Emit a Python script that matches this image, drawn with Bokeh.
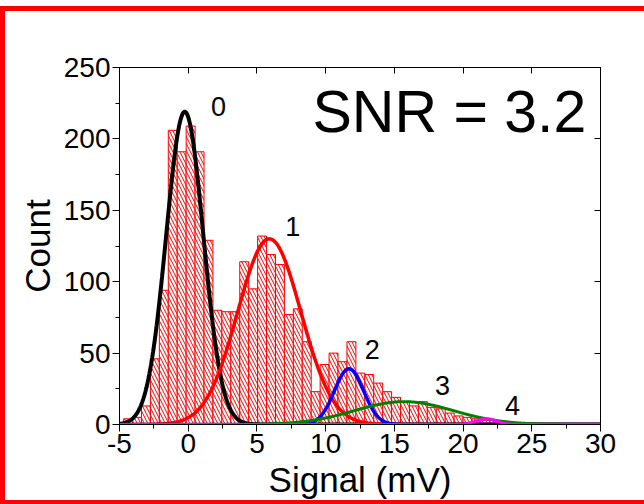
import numpy as np
from bokeh.plotting import figure
from bokeh.models import Range1d, LinearAxis, Label, ColumnDataSource, CustomJSTickFormatter
from bokeh.embed import file_html
from bokeh.resources import INLINE

# ---- data ----
bin_width = 0.65
bin_centers = [-4.375, -3.725, -3.075, -2.425, -1.775, -1.125, -0.475, 0.175, 0.825, 1.475,
               2.125, 2.775, 3.425, 4.075, 4.725, 5.375, 6.025, 6.675, 7.325, 7.975,
               8.625, 9.275, 9.925, 10.575, 11.225, 11.875, 12.525, 13.175, 13.825, 14.475,
               15.125, 15.775, 16.425, 17.075, 17.725, 18.375, 19.025, 19.675, 20.325, 20.975,
               21.625, 22.275, 22.925, 23.575]
counts = [4, 5, 13, 46, 94, 206, 191, 209, 191, 129,
          80, 79, 79, 114, 95, 132, 119, 112, 77, 81,
          58, 23, 42, 50, 44, 58, 36, 35, 29, 23,
          19, 16, 13, 16, 12, 11, 8, 6, 5, 4,
          3, 3, 2, 1]

peak_labels = ["0", "1", "2", "3", "4"]
peak_centers = [-0.25, 5.9, 11.7, 15.7, 21.7]
peak_sigmas = [1.35, 2.3, 1.06, 3.6, 0.75]
peak_heights = [219, 130, 39, 16, 4]
peak_colors = ["#000000", "#FF0000", "#0000FF", "#008000", "#FF00FF"]
peak_widths = [4, 3.5, 3.5, 3, 3]

snr_text = "SNR = 3.2"

FONT = "Liberation Sans"

p = figure(width=644, height=504, output_backend="svg", toolbar_location=None,
           x_range=Range1d(-5, 30), y_range=Range1d(0, 250),
           min_border_left=119, min_border_right=44, min_border_top=67, min_border_bottom=80)
p.background_fill_color = "white"
p.border_fill_color = None
p.outline_line_color = "black"
p.outline_line_width = 1
p.xgrid.visible = False
p.ygrid.visible = False

# red page frame (left, top, bottom) drawn by CSS behind the transparent border area
p.styles = {
    "background-color": "white",
    "box-shadow": "inset 0 6px 0 0 white, inset 5px 0 0 0 #FF0000, "
                  "inset 0 11px 0 0 #FF0000, inset 0 -4px 0 0 #FF0000",
}

# histogram
left = [c - bin_width / 2 for c in bin_centers]
right = [c + bin_width / 2 for c in bin_centers]
src = ColumnDataSource(dict(left=left, right=right, top=counts, bottom=[0] * len(counts)))
p.quad(left="left", right="right", top="top", bottom="bottom", source=src,
       fill_color="white", line_color="#FF0000", line_width=1,
       hatch_pattern="left_diagonal_line", hatch_color="#FF0000", hatch_scale=7,
       hatch_weight=1)

# fitted peaks
xs = np.linspace(-5, 30, 1401)
for mu, s, a, col, lw in zip(peak_centers, peak_sigmas, peak_heights, peak_colors, peak_widths):
    ys = a * np.exp(-((xs - mu) ** 2) / (2 * s ** 2))
    p.line(xs, ys, line_color=col, line_width=lw)

# axes styling
for ax in (p.xaxis[0], p.yaxis[0]):
    ax.axis_line_color = "black"
    ax.major_tick_line_color = "black"
    ax.minor_tick_line_color = "black"
    ax.major_tick_in = 0
    ax.major_tick_out = 7
    ax.minor_tick_in = 0
    ax.minor_tick_out = 4
    ax.major_label_text_font = FONT
    ax.major_label_text_font_size = "28px"
    ax.major_label_text_color = "black"
    ax.axis_label_text_font = FONT
    ax.axis_label_text_font_size = "35px"
    ax.axis_label_text_font_style = "normal"
    ax.axis_label_text_color = "black"
    ax.major_label_standoff = 2
    ax.axis_label_standoff = 4

p.xaxis.axis_label = "Signal (mV)"
p.yaxis.axis_label = "Count"
p.xaxis.ticker.desired_num_ticks = 8
p.xaxis.ticker.num_minor_ticks = 2
p.yaxis.ticker.desired_num_ticks = 6
p.yaxis.ticker.num_minor_ticks = 2
p.xaxis.formatter = CustomJSTickFormatter(code="return String(tick).replace('\u2212', '-');")

# mirrored axes (ticks only, no labels)
for loc in ("right", "above"):
    ax = LinearAxis(major_tick_in=6, major_tick_out=0, minor_tick_line_color=None,
                    axis_line_color="black",
                    formatter=CustomJSTickFormatter(code="return '';"))
    ax.ticker.desired_num_ticks = 6 if loc == "right" else 8
    p.add_layout(ax, loc)

# peak labels
label_x = [2.2, 7.6, 13.4, 18.5, 23.6]
label_y = [222.7, 138.7, 52.5, 27.3, 13.3]
for t, x, y in zip(peak_labels, label_x, label_y):
    p.add_layout(Label(x=x, y=y, text=t, text_font=FONT, text_font_size="27px",
                       text_align="center", text_baseline="middle", text_color="black"))

p.add_layout(Label(x=19.0, y=218.5, text=snr_text, text_font=FONT, text_font_size="59px",
                   text_align="center", text_baseline="middle", text_color="black"))

open("out.html", "w").write(file_html(p, INLINE))
